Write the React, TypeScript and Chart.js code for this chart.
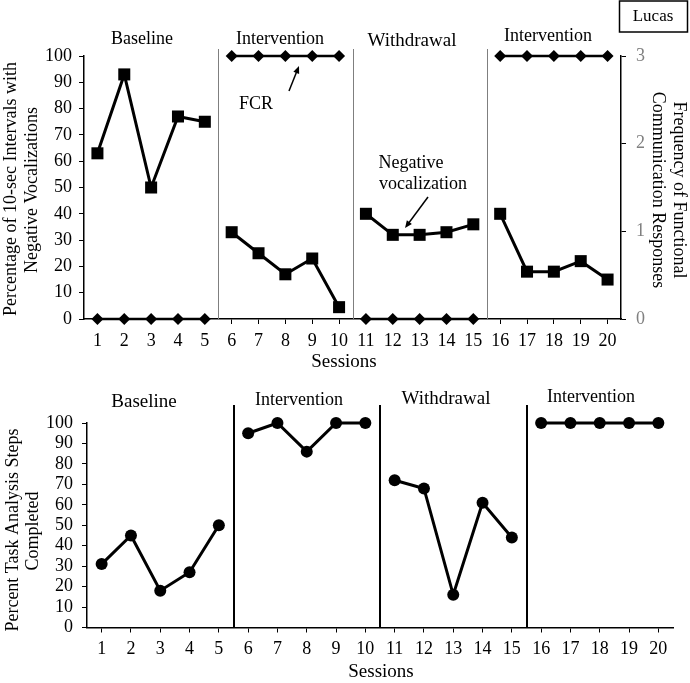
import { useEffect, useRef } from "react"
import { Chart, registerables } from "chart.js"

Chart.register(...registerables)

// sessions and values
const sessions = [1, 2, 3, 4, 5, 6, 7, 8, 9, 10, 11, 12, 13, 14, 15, 16, 17, 18, 19, 20]
const negVocal = [63, 93, 50, 77, 75, 33, 25, 17, 23, 4.5, 40, 32, 32, 33, 36, 40, 18, 18, 22, 15]
const fcrFreq = [0, 0, 0, 0, 0, 3, 3, 3, 3, 3, 0, 0, 0, 0, 0, 3, 3, 3, 3, 3]
const taskSteps = [31, 45, 18, 27, 50, 95, 100, 86, 100, 100, 72, 68, 16, 61, 44, 100, 100, 100, 100, 100]
const percentTicks = [0, 10, 20, 30, 40, 50, 60, 70, 80, 90, 100]
const freqTicks = [0, 1, 2, 3]
const phaseNames = ["Baseline", "Intervention", "Withdrawal", "Intervention"]
const phaseSizes = [5, 5, 5, 5]
const phaseChanges = [5.5, 10.5, 15.5]

const SERIF = "'Liberation Serif', 'Times New Roman', serif"
const TOP_H = 372
const BOTTOM_H = 311

// split a series into one point list per phase so the line breaks at each phase change
function byPhase(values: number[]) {
  const out: { x: number; y: number }[][] = []
  let start = 0
  for (const n of phaseSizes) {
    out.push(sessions.slice(start, start + n).map((s, i) => ({ x: s, y: values[start + i] })))
    start += n
  }
  return out
}

function text(ctx: CanvasRenderingContext2D, s: string, x: number, y: number, size = 18, rot = 0, color = "#000") {
  ctx.save()
  ctx.translate(x, y)
  ctx.rotate(rot)
  ctx.font = `${size}px ${SERIF}`
  ctx.fillStyle = color
  ctx.textAlign = "center"
  ctx.textBaseline = "middle"
  ctx.fillText(s, 0, 0)
  ctx.restore()
}

function arrow(ctx: CanvasRenderingContext2D, x1: number, y1: number, x2: number, y2: number) {
  const a = Math.atan2(y2 - y1, x2 - x1)
  ctx.save()
  ctx.strokeStyle = "#000"
  ctx.fillStyle = "#000"
  ctx.lineWidth = 1.5
  ctx.beginPath()
  ctx.moveTo(x1, y1)
  ctx.lineTo(x2 - 6 * Math.cos(a), y2 - 6 * Math.sin(a))
  ctx.stroke()
  ctx.beginPath()
  ctx.moveTo(x2, y2)
  ctx.lineTo(x2 - 8 * Math.cos(a - 0.4), y2 - 8 * Math.sin(a - 0.4))
  ctx.lineTo(x2 - 8 * Math.cos(a + 0.4), y2 - 8 * Math.sin(a + 0.4))
  ctx.closePath()
  ctx.fill()
  ctx.restore()
}

function xScale(height: number) {
  return {
    type: "linear" as const,
    min: 0.5,
    max: 20.5,
    afterBuildTicks: (s: any) => {
      s.ticks = sessions.map((v) => ({ value: v }))
    },
    afterFit: (s: any) => {
      s.height = height
    },
    grid: { drawOnChartArea: false, drawTicks: true, tickLength: 5, color: "#000", lineWidth: 1 },
    border: { display: true, color: "#000", width: 1.5 },
    ticks: { color: "#000", font: { family: SERIF, size: 18 }, padding: 6, autoSkip: false, maxRotation: 0 },
  }
}

function yScale(position: "left" | "right", max: number, values: number[], width: number, color: string, padding: number) {
  return {
    type: "linear" as const,
    position,
    min: 0,
    max,
    afterBuildTicks: (s: any) => {
      s.ticks = values.map((v) => ({ value: v }))
    },
    afterFit: (s: any) => {
      s.width = width
    },
    grid: { drawOnChartArea: false, tickLength: 5, color: "#000", lineWidth: 1 },
    border: { display: true, color: "#000", width: 1.5 },
    ticks: { color, font: { family: SERIF, size: 18 }, padding, autoSkip: false },
  }
}

function TopChart() {
  const ref = useRef<HTMLCanvasElement>(null)

  useEffect(() => {
    if (!ref.current) return
    const sq = byPhase(negVocal)
    const dia = byPhase(fcrFreq)

    const overlay = {
      id: "overlayTop",
      beforeDatasetsDraw: (chart: Chart) => {
        const { ctx, chartArea } = chart
        const x = chart.scales.x
        ctx.save()
        ctx.strokeStyle = "#7f7f7f"
        ctx.lineWidth = 1
        for (const p of phaseChanges) {
          const px = Math.round(x.getPixelForValue(p)) + 0.5
          ctx.beginPath()
          ctx.moveTo(px, 49)
          ctx.lineTo(px, chartArea.bottom)
          ctx.stroke()
        }
        ctx.restore()
      },
      afterDraw: (chart: Chart) => {
        const ctx = chart.ctx
        text(ctx, phaseNames[0], 142, 39)
        text(ctx, phaseNames[1], 280, 39)
        text(ctx, phaseNames[2], 412, 41, 19)
        text(ctx, phaseNames[3], 548, 36)
        text(ctx, "Sessions", 344, 362, 19)
        text(ctx, "Percentage of 10-sec Intervals with", 11, 189, 18, -Math.PI / 2)
        text(ctx, "Negative Vocalizations", 32, 190, 18, -Math.PI / 2)
        text(ctx, "Frequency of Functional", 679, 190, 18, Math.PI / 2)
        text(ctx, "Communication Responses", 658, 190, 18, Math.PI / 2)
        text(ctx, "FCR", 256, 104)
        arrow(ctx, 289, 91, 299, 66)
        text(ctx, "Negative", 411, 163)
        text(ctx, "vocalization", 423, 184)
        arrow(ctx, 428, 197, 405, 228)
        ctx.save()
        ctx.strokeStyle = "#000"
        ctx.lineWidth = 1.5
        ctx.strokeRect(619.5, 1, 68, 31)
        ctx.restore()
        text(ctx, "Lucas", 653, 17, 17)
      },
    }

    const chart = new Chart(ref.current, {
      type: "line",
      data: {
        datasets: [
          ...sq.map((d) => ({
            data: d,
            yAxisID: "y",
            borderColor: "#000",
            backgroundColor: "#000",
            borderWidth: 3,
            pointStyle: "rect" as const,
            pointRadius: 8.5,
            pointBorderWidth: 0,
            clip: false as const,
          })),
          ...dia.map((d) => ({
            data: d,
            yAxisID: "y2",
            borderColor: "#000",
            backgroundColor: "#000",
            borderWidth: 2.5,
            pointStyle: "rectRot" as const,
            pointRadius: 6,
            pointBorderWidth: 0,
            clip: false as const,
          })),
        ],
      },
      options: {
        animation: false,
        responsive: false,
        layout: { padding: { top: 56, left: 0, right: 0, bottom: 0 } },
        plugins: { legend: { display: false }, tooltip: { enabled: false } },
        scales: {
          x: xScale(TOP_H - 319),
          y: yScale("left", 100, percentTicks, 84, "#000", 7),
          y2: yScale("right", 3, freqTicks, 690 - 621, "#808080", 10),
        },
      },
      plugins: [overlay],
    })

    return () => chart.destroy()
  }, [])

  return <canvas ref={ref} width={690} height={TOP_H} style={{ display: "block" }} />
}

function BottomChart() {
  const ref = useRef<HTMLCanvasElement>(null)

  useEffect(() => {
    if (!ref.current) return
    const dots = byPhase(taskSteps)
    const off = TOP_H

    const overlay = {
      id: "overlayBottom",
      beforeDatasetsDraw: (chart: Chart) => {
        const { ctx, chartArea } = chart
        const x = chart.scales.x
        ctx.save()
        ctx.strokeStyle = "#000"
        ctx.lineWidth = 2
        for (const p of phaseChanges) {
          const px = Math.round(x.getPixelForValue(p))
          ctx.beginPath()
          ctx.moveTo(px, 405 - off)
          ctx.lineTo(px, chartArea.bottom)
          ctx.stroke()
        }
        ctx.restore()
      },
      afterDraw: (chart: Chart) => {
        const ctx = chart.ctx
        text(ctx, phaseNames[0], 144, 402 - off, 19)
        text(ctx, phaseNames[1], 299, 400 - off)
        text(ctx, phaseNames[2], 446, 399 - off, 19)
        text(ctx, phaseNames[3], 591, 397 - off)
        text(ctx, "Sessions", 381, 672 - off, 19)
        text(ctx, "Percent Task Analysis Steps", 13, 530 - off, 18, -Math.PI / 2)
        text(ctx, "Completed", 33, 531 - off, 18, -Math.PI / 2)
      },
    }

    const chart = new Chart(ref.current, {
      type: "line",
      data: {
        datasets: dots.map((d) => ({
          data: d,
          borderColor: "#000",
          backgroundColor: "#000",
          borderWidth: 3,
          pointStyle: "circle" as const,
          pointRadius: 6,
          pointBorderWidth: 0,
          clip: false as const,
        })),
      },
      options: {
        animation: false,
        responsive: false,
        layout: { padding: { top: 423 - off, left: 0, right: 690 - 673, bottom: 0 } },
        plugins: { legend: { display: false }, tooltip: { enabled: false } },
        scales: {
          x: xScale(BOTTOM_H - (627.5 - off)),
          y: yScale("left", 100, percentTicks, 87, "#000", 9),
        },
      },
      plugins: [overlay],
    })

    return () => chart.destroy()
  }, [])

  return <canvas ref={ref} width={690} height={BOTTOM_H} style={{ display: "block" }} />
}

export default function App() {
  return (
    <div style={{ position: "absolute", left: 0, top: 0, width: 690, height: 683, background: "#fff" }}>
      <TopChart />
      <BottomChart />
    </div>
  )
}
